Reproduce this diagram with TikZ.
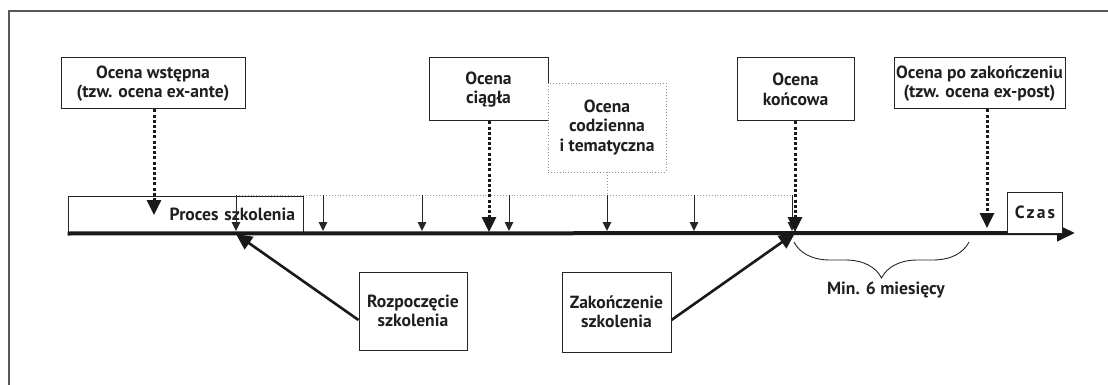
\documentclass[tikz,border=0pt]{standalone}
\usepackage{fontspec}
\setmainfont{PT Sans}
\usetikzlibrary{arrows.meta,decorations.pathreplacing,calc}
\begin{document}
\begin{tikzpicture}[x=1pt,y=-1pt,
  font=\fontsize{17.6}{19.5}\selectfont\bfseries,
  box/.style={draw=black!85, line width=1pt, fill=white, inner sep=0pt, align=center, text=black!88},
  dotbox/.style={draw=black!45, dotted, line width=0.9pt, fill=white, inner sep=0pt, align=center, text=black!88},
  dotarrow/.style={line width=3pt, black!90, dash pattern=on 3pt off 2.2pt, -{Triangle[width=14pt,length=15pt]}},
  tick/.style={line width=1pt, black!85, -{Triangle[width=8.5pt,length=9pt]}},
  grayline/.style={line width=0.9pt, black!40, dotted},
  bigarrow/.style={line width=2.6pt, black!90, -{Triangle[width=15pt,length=16pt]}},
  frame/.style={line width=1.6pt, black!65}
]
\useasboundingbox (0,0) rectangle (1108,385);
% outer frame (top and left sides)
\draw[frame] (1108,11) -- (9,11) -- (9,385);

% training process box and axis
\node[box, minimum width=235pt, minimum height=37pt, text width=219pt, inner xsep=8pt, align=right] (proc) at (185.5,214.5) {Proces szkolenia};
\coordinate (axisend) at (1075,233);
\draw[line width=4pt, black!90, -{Triangle[width=16pt,length=18pt]}] (proc.south west) -- (axisend);

% Czas box
\node[box, minimum width=55pt, minimum height=41pt] (czas) at (1035,212.5) {\addfontfeatures{LetterSpace=12}Czas};

% top boxes
\node[box, minimum width=184pt, minimum height=51pt] (wst) at (153,83.5) {Ocena wstępna\\(tzw. ocena ex-ante)};
\node[box, minimum width=119pt, minimum height=63pt] (ciag) at (488.5,89.5) {Ocena\\ciągła};
\node[dotbox, minimum width=118pt, minimum height=89pt] (codz) at (607,127.5) {Ocena\\codzienna\\i tematyczna};
\node[box, minimum width=117pt, minimum height=63pt] (konc) at (795.5,89.5) {Ocena\\końcowa};
\node[box, minimum width=171pt, minimum height=51pt] (post) at (979.5,83.5) {Ocena po zakończeniu\\(tzw. ocena ex-post)};

% daily / thematic evaluation connectors
\coordinate (gl) at (236,195);
\coordinate (gr) at (792,195);
\draw[grayline] (codz.south) -- (codz.south |- gl);
\draw[grayline] (gl) -- (gr);
\foreach \x/\n in {236/a,323/b,422/c,509/d,607/e,694/f,792/g}{
  \coordinate (t\n) at (\x,195);
  \coordinate (b\n) at (\x,231);
  \draw[tick] (t\n) -- (b\n);
}

% dotted arrows
\coordinate (wstend) at (154,215);
\coordinate (ciagend) at (489,232);
\coordinate (koncend) at (795,232);
\coordinate (postend) at (987,228);
\draw[dotarrow] (wst.south -| wstend) -- (wstend);
\draw[dotarrow] (ciag.south -| ciagend) -- (ciagend);
\draw[dotarrow] (konc.south -| koncend) -- (koncend);
\draw[dotarrow] (post.south -| postend) -- (postend);

% start / end boxes
\node[box, minimum width=108pt, minimum height=78pt] (start) at (413,311) {Rozpoczęcie\\szkolenia};
\node[box, minimum width=109pt, minimum height=80pt] (end) at (616.5,312) {Zakończenie\\szkolenia};
\coordinate (startpt) at (236,234);
\coordinate (endpt) at (795,233);
\draw[bigarrow] (start.west |- 0,320) -- (startpt);
\draw[bigarrow] (end.east |- 0,320) -- (endpt);

% brace
\coordinate (br1) at (794,242);
\coordinate (br2) at (969,242);
\draw[line width=0.9pt, black!85, decorate, decoration={brace, mirror, amplitude=36pt}] (br1) -- (br2);
\node[inner sep=0pt, text=black!88] (min) at (886,290) {Min. 6 miesięcy};
\end{tikzpicture}
\end{document}
